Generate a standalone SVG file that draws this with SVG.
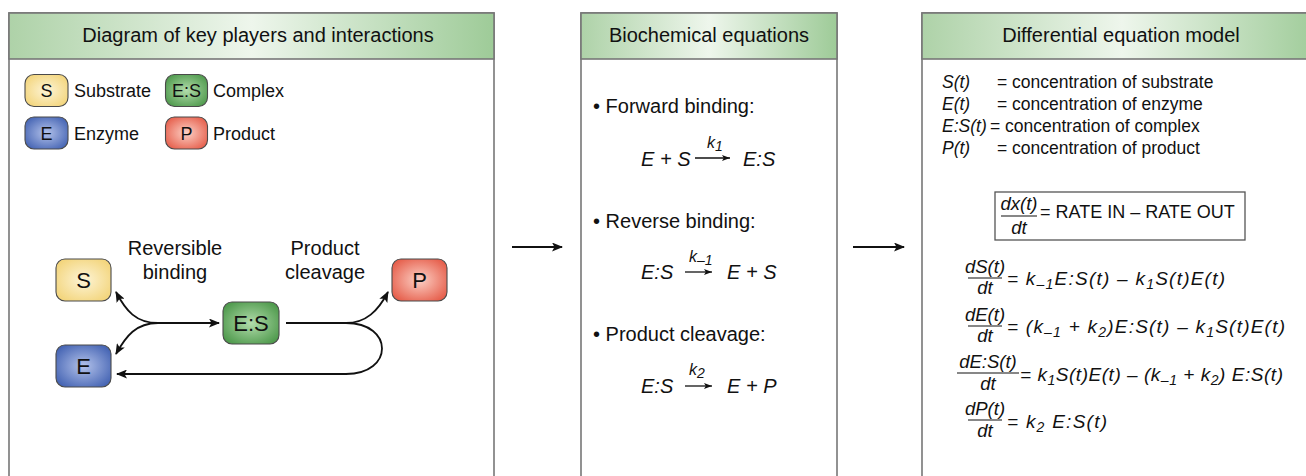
<svg xmlns="http://www.w3.org/2000/svg" width="1306" height="476" viewBox="0 0 1306 476">
<style>
text{font-family:"Liberation Sans",Arial,sans-serif;fill:#111}
.hd{font-size:20px;text-anchor:middle}
.lg{font-size:18px}
.lgl{font-size:18px;text-anchor:middle}
.nl{font-size:22px;text-anchor:middle}
.lab{font-size:20px;text-anchor:middle}
.bt{font-size:20px}
.mi{font-size:20px;font-style:italic}
.k{font-size:16px;font-style:italic}
.df{font-size:17.5px}
.it{font-style:italic}
.eq{font-size:19px;font-style:italic}
.fr{font-size:18.5px;font-style:italic;text-anchor:middle}
.sb{font-size:14px}
.panel{fill:#fff;stroke:#777;stroke-width:1.6}
.hdr{fill:url(#hg);stroke:#777;stroke-width:1.6}
.node{stroke:#4a4a4a;stroke-width:1.1}
.conn{fill:none;stroke:#111;stroke-width:1.8}
.thin{fill:none;stroke:#111;stroke-width:1.3}
.fl{stroke:#111;stroke-width:1.2}
</style>
<defs>
<linearGradient id="hg" x1="0" y1="0" x2="1" y2="0">
<stop offset="0" stop-color="#aed2a8"/><stop offset="0.5" stop-color="#eef6ec"/><stop offset="1" stop-color="#9ecb98"/>
</linearGradient>
<radialGradient id="gS" cx="0.5" cy="0.5" r="0.6"><stop offset="0" stop-color="#fdf4d6"/><stop offset="1" stop-color="#f3d57c"/></radialGradient>
<radialGradient id="gE" cx="0.5" cy="0.5" r="0.6"><stop offset="0" stop-color="#b3c2ea"/><stop offset="1" stop-color="#4665b4"/></radialGradient>
<radialGradient id="gC" cx="0.5" cy="0.5" r="0.6"><stop offset="0" stop-color="#b2dcab"/><stop offset="1" stop-color="#4f9a4d"/></radialGradient>
<radialGradient id="gP" cx="0.5" cy="0.5" r="0.6"><stop offset="0" stop-color="#fcd0c5"/><stop offset="1" stop-color="#e65f4c"/></radialGradient>
<marker id="ah" markerWidth="11" markerHeight="9" refX="10" refY="4.5" orient="auto" markerUnits="userSpaceOnUse"><path d="M0,0 L11,4.5 L0,9 L2.5,4.5 z" fill="#111"/></marker>
<marker id="ahs" markerWidth="8" markerHeight="6" refX="8" refY="3" orient="auto" markerUnits="userSpaceOnUse"><path d="M0,0 L8,3 L0,6 L1.8,3 z" fill="#111"/></marker>
</defs>

<!-- Panel 1 -->
<g id="panel1">
<rect class="panel" x="9" y="13" width="485" height="480"/>
<rect class="hdr" x="9" y="13" width="485" height="46"/>
<text class="hd" x="258" y="42">Diagram of key players and interactions</text>
</g>
<g id="legend">
<rect class="node" x="25" y="74.5" width="43" height="32" rx="9" fill="url(#gS)"/>
<text class="lgl" x="46.5" y="97">S</text>
<text class="lg" x="74" y="97">Substrate</text>
<rect class="node" x="165.5" y="74.5" width="42" height="32" rx="9" fill="url(#gC)"/>
<text class="lgl" x="186.5" y="97">E:S</text>
<text class="lg" x="213" y="97">Complex</text>
<rect class="node" x="25" y="117" width="43" height="32" rx="9" fill="url(#gE)"/>
<text class="lgl" x="46.5" y="140">E</text>
<text class="lg" x="74" y="140">Enzyme</text>
<rect class="node" x="165.5" y="117" width="42" height="32" rx="9" fill="url(#gP)"/>
<text class="lgl" x="186.5" y="140">P</text>
<text class="lg" x="213" y="140">Product</text>
</g>
<g id="nodeS"><rect class="node" x="56" y="259" width="55" height="42" rx="9" fill="url(#gS)"/><text class="nl" x="83.5" y="288">S</text></g>
<g id="nodeE"><rect class="node" x="56" y="345" width="55" height="42" rx="9" fill="url(#gE)"/><text class="nl" x="83.5" y="374">E</text></g>
<g id="nodeES"><rect class="node" x="223" y="302" width="56" height="42" rx="9" fill="url(#gC)"/><text class="nl" x="251" y="331">E:S</text></g>
<g id="nodeP"><rect class="node" x="392" y="259" width="55" height="42" rx="9" fill="url(#gP)"/><text class="nl" x="419.5" y="288">P</text></g>
<g id="labels">
<text class="lab" x="175" y="255">Reversible</text>
<text class="lab" x="175" y="279">binding</text>
<text class="lab" x="325" y="255">Product</text>
<text class="lab" x="325" y="279">cleavage</text>
</g>
<g id="connectors">
<path class="conn" d="M158,323 H219" marker-end="url(#ah)"/>
<path class="conn" d="M158,323 C136,323 126,311 116,292" marker-end="url(#ah)"/>
<path class="conn" d="M158,323 C136,323 126,336 116,354" marker-end="url(#ah)"/>
<path class="conn" d="M286,323 H346 C366,323 378,311 388,292" marker-end="url(#ah)"/>
<path class="conn" d="M346,323 C394,323 394,374 346,374 H117" marker-end="url(#ah)"/>
<path class="conn" d="M512,247 H562" marker-end="url(#ah)"/>
<path class="conn" d="M853,247 H904" marker-end="url(#ah)"/>
</g>

<!-- Panel 2 -->
<g id="panel2">
<rect class="panel" x="581" y="13" width="256" height="480"/>
<rect class="hdr" x="581" y="13" width="256" height="46"/>
<text class="hd" x="709" y="42">Biochemical equations</text>
<text class="bt" x="593" y="113">• Forward binding:</text>
<text class="mi" x="641" y="166">E + S</text>
<path class="thin" d="M695,158 H730" marker-end="url(#ahs)"/>
<text class="k" x="707" y="148">k<tspan class="sb" dy="3">1</tspan></text>
<text class="mi" x="743" y="166">E:S</text>
<text class="bt" x="593" y="228">• Reverse binding:</text>
<text class="mi" x="641" y="279">E:S</text>
<path class="thin" d="M685,272 H712" marker-end="url(#ahs)"/>
<text class="k" x="689" y="262">k<tspan class="sb" dy="3">–1</tspan></text>
<text class="mi" x="727" y="279">E + S</text>
<text class="bt" x="593" y="341">• Product cleavage:</text>
<text class="mi" x="641" y="393">E:S</text>
<path class="thin" d="M685,386 H712" marker-end="url(#ahs)"/>
<text class="k" x="689" y="375">k<tspan class="sb" dy="3">2</tspan></text>
<text class="mi" x="727" y="393">E + P</text>
</g>

<!-- Panel 3 -->
<g id="panel3">
<rect class="panel" x="922" y="13" width="400" height="480"/>
<rect class="hdr" x="922" y="13" width="400" height="46"/>
<text class="hd" x="1121" y="42">Differential equation model</text>
<text class="df it" x="942" y="88">S(t)</text><text class="df" x="997" y="88">= concentration of substrate</text>
<text class="df it" x="942" y="110">E(t)</text><text class="df" x="997" y="110">= concentration of enzyme</text>
<text class="df it" x="942" y="132">E:S(t)</text><text class="df" x="990" y="132">= concentration of complex</text>
<text class="df it" x="942" y="154">P(t)</text><text class="df" x="997" y="154">= concentration of product</text>
<rect x="995" y="192" width="250" height="48" fill="none" stroke="#555" stroke-width="1.3"/>
<text class="fr" x="1019" y="210">dx(t)</text>
<line class="fl" x1="1001" y1="216" x2="1037" y2="216"/>
<text class="fr" x="1019" y="234">dt</text>
<text class="df" x="1040" y="218" style="font-size:18px">= RATE IN – RATE OUT</text>

<text class="fr" x="985" y="273">dS(t)</text>
<line class="fl" x1="968" y1="278" x2="1002" y2="278"/>
<text class="fr" x="985" y="294">dt</text>
<text class="eq" x="1007" y="285" textLength="218" lengthAdjust="spacing">= k<tspan class="sb" dy="4">–1</tspan><tspan dy="-4">E:S(t) – k</tspan><tspan class="sb" dy="4">1</tspan><tspan dy="-4">S(t)E(t)</tspan></text>

<text class="fr" x="985" y="321">dE(t)</text>
<line class="fl" x1="968" y1="326" x2="1002" y2="326"/>
<text class="fr" x="985" y="342">dt</text>
<text class="eq" x="1007" y="333" textLength="278" lengthAdjust="spacing">= (k<tspan class="sb" dy="4">–1</tspan><tspan dy="-4"> + k</tspan><tspan class="sb" dy="4">2</tspan><tspan dy="-4">)E:S(t) – k</tspan><tspan class="sb" dy="4">1</tspan><tspan dy="-4">S(t)E(t)</tspan></text>

<text class="fr" x="988" y="368">dE:S(t)</text>
<line class="fl" x1="957" y1="373" x2="1019" y2="373"/>
<text class="fr" x="988" y="390">dt</text>
<text class="eq" x="1020" y="381" textLength="263" lengthAdjust="spacing">= k<tspan class="sb" dy="4">1</tspan><tspan dy="-4">S(t)E(t) – (k</tspan><tspan class="sb" dy="4">–1</tspan><tspan dy="-4"> + k</tspan><tspan class="sb" dy="4">2</tspan><tspan dy="-4">) E:S(t)</tspan></text>

<text class="fr" x="985" y="415">dP(t)</text>
<line class="fl" x1="968" y1="420" x2="1002" y2="420"/>
<text class="fr" x="985" y="437">dt</text>
<text class="eq" x="1007" y="428" textLength="100" lengthAdjust="spacing">= k<tspan class="sb" dy="4">2</tspan><tspan dy="-4"> E:S(t)</tspan></text>
</g>
</svg>
